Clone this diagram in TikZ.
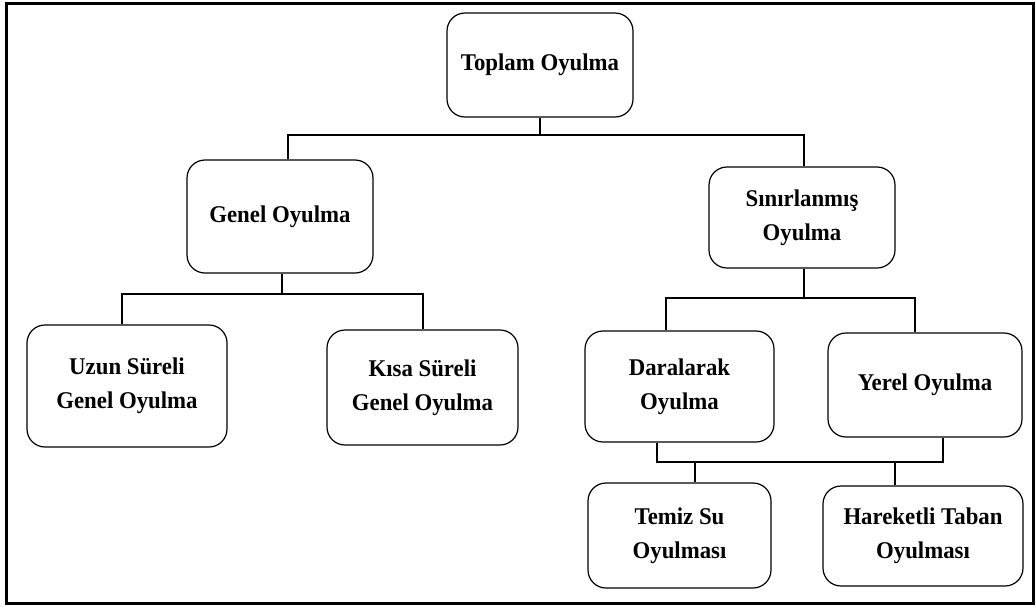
\documentclass[tikz,border=0pt]{standalone}
\usepackage{fontspec}
\setmainfont[FakeStretch=0.95]{Liberation Serif}
\begin{document}
\begin{tikzpicture}[x=1pt,y=-1pt,
  box/.style={draw, line width=1.2pt, rounded corners=18pt, inner sep=0pt,
    align=center, font=\fontsize{24}{34}\selectfont\bfseries},
  conn/.style={line width=1.4pt}]
\useasboundingbox (0,0) rectangle (1036,606);
\draw[line width=3pt] (6.5,3) rectangle (1033,603);

\node[box, minimum width=186pt, minimum height=104pt] (top) at (540,65) {Toplam Oyulma};
\node[box, minimum width=186pt, minimum height=113pt] (genel) at (280,216.5) {Genel Oyulma};
\node[box, minimum width=186pt, minimum height=101pt] (sinir) at (802,217.5) {Sınırlanmış\\Oyulma};
\node[box, minimum width=200pt, minimum height=122pt] (uzun) at (127,386) {Uzun Süreli\\Genel Oyulma};
\node[box, minimum width=191pt, minimum height=115pt] (kisa) at (422.5,387.5) {Kısa Süreli\\Genel Oyulma};
\node[box, minimum width=189pt, minimum height=111pt] (dara) at (679.5,386.5) {Daralarak\\Oyulma};
\node[box, minimum width=194pt, minimum height=104pt] (yerel) at (925,385) {Yerel Oyulma};
\node[box, minimum width=183pt, minimum height=105pt] (temiz) at (679.5,535.5) {Temiz Su\\Oyulması};
\node[box, minimum width=200pt, minimum height=100pt] (hare) at (923,536) {Hareketli Taban\\Oyulması};

\coordinate (j1) at (540,135);
\coordinate (j2) at (282,294);
\coordinate (j3) at (804,298);
\coordinate (j4) at (800,462);

\draw[conn] (top.south) -- (j1);
\draw[conn] ([xshift=8pt]genel.north) |- (j1) -| ([xshift=2pt]sinir.north);

\draw[conn] ([xshift=2pt]genel.south) -- (j2);
\draw[conn] ([xshift=-5pt]uzun.north) |- (j2) -| ([xshift=0.5pt]kisa.north);

\draw[conn] ([xshift=2pt]sinir.south) -- (j3);
\draw[conn] ([xshift=-13.5pt]dara.north) |- (j3) -| ([xshift=-10pt]yerel.north);

\draw[conn] ([xshift=-22.5pt]dara.south) |- (j4) -| ([xshift=18pt]yerel.south);
\draw[conn] ([xshift=15.5pt]temiz.north) -- ([xshift=15.5pt]temiz.north |- j4);
\draw[conn] ([xshift=-28pt]hare.north) -- ([xshift=-28pt]hare.north |- j4);
\end{tikzpicture}
\end{document}
